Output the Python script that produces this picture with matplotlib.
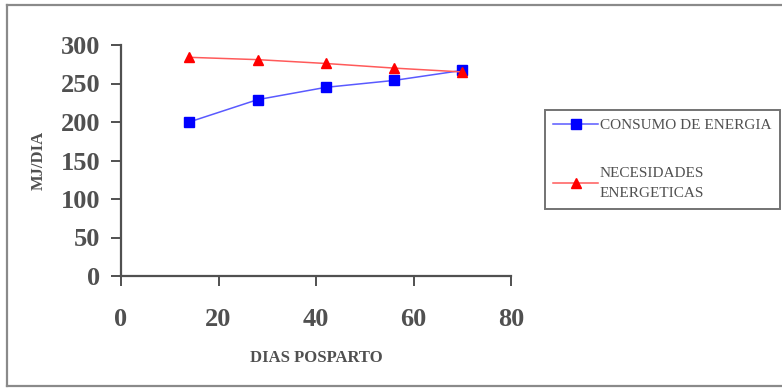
import matplotlib
matplotlib.use("Agg")
import matplotlib.pyplot as plt
from matplotlib.lines import Line2D

# datos
dias = [14, 28, 42, 56, 70]
consumo = [200, 229, 245, 254, 267]
necesidades = [284, 281, 276, 270, 265]

serie_consumo = "CONSUMO DE ENERGIA"
serie_necesidades = "NECESIDADES\nENERGETICAS"

gris = "#505050"
plt.rcParams["font.family"] = ["Liberation Serif", "DejaVu Serif"]

fig = plt.figure(figsize=(7.82, 3.9), dpi=100)
W, H = 782, 390

# marco exterior
for xs, ys in [([7, 800], [386, 386]), ([7, 7], [5, 386]), ([7, 800], [5, 5])]:
    fig.add_artist(Line2D([x / W for x in xs], [1 - y / H for y in ys],
                          color="#8a8a8a", lw=1.6))

ax = fig.add_axes([121 / W, 1 - 276 / H, (511 - 121) / W, (276 - 45) / H])
ax.plot(dias, consumo, color="#5a5aff", lw=1.1, marker="s", markersize=6.5,
        markerfacecolor="blue", markeredgecolor="blue", label=serie_consumo)
ax.plot(dias, necesidades, color="#ff5a5a", lw=1.1, marker="^", markersize=7.5,
        markerfacecolor="red", markeredgecolor="red", label=serie_necesidades)

ax.set_xlim(0, 80)
ax.set_ylim(0, 300)
ax.set_xticks([0, 20, 40, 60, 80])
ax.set_yticks([0, 50, 100, 150, 200, 250, 300])
for s in ["top", "right"]:
    ax.spines[s].set_visible(False)
for s in ["left", "bottom"]:
    ax.spines[s].set_color(gris)
    ax.spines[s].set_linewidth(1.6)
ax.tick_params(colors=gris, labelsize=19, length=7, width=1.4, direction="out")
ax.tick_params(axis="y", pad=8)
ax.tick_params(axis="x", pad=16)
for t in ax.get_xticklabels() + ax.get_yticklabels():
    t.set_fontweight("bold")
ax.set_xlabel("DIAS POSPARTO", fontsize=12, fontweight="bold", color=gris, labelpad=14)
ax.set_ylabel("MJ/DIA", fontsize=12, fontweight="bold", color=gris, labelpad=10)

leg = fig.legend(loc="upper left", bbox_to_anchor=(545 / W, 1 - 110 / H),
                 fontsize=11, frameon=True, fancybox=False, labelspacing=2.3,
                 handlelength=2.9, handletextpad=0.15, borderpad=0.55,
                 borderaxespad=0)
leg.get_frame().set_edgecolor(gris)
leg.get_frame().set_linewidth(1.4)
for t in leg.get_texts():
    t.set_color(gris)
    t.set_linespacing(1.7)

fig.savefig("out.png", dpi=100)
